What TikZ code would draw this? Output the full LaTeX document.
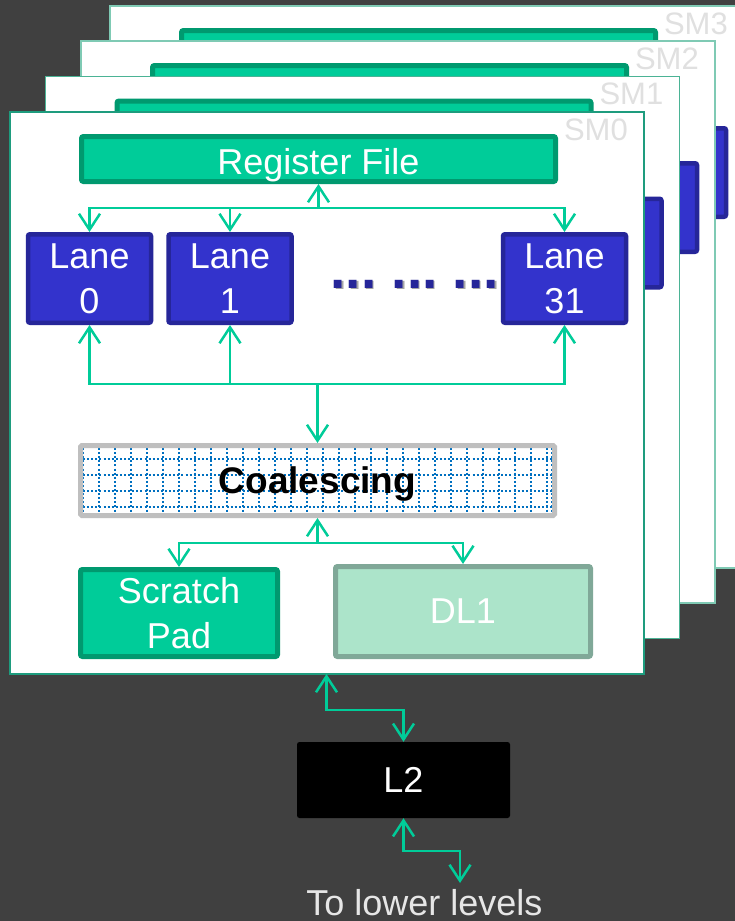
\documentclass[tikz,border=0pt]{standalone}
\usepackage{fontspec}
\setmainfont{Liberation Sans}
\usetikzlibrary{arrows.meta}

\definecolor{bgdark}{HTML}{404040}
\definecolor{rfgreen}{HTML}{00CC99}
\definecolor{rfedge}{HTML}{00996F}
\definecolor{lanefill}{HTML}{3333CC}
\definecolor{laneedge}{HTML}{262699}
\definecolor{dlfill}{HTML}{ACE4CA}
\definecolor{dledge}{HTML}{80A898}
\definecolor{coaledge}{HTML}{BFBFBF}
\definecolor{gridblue}{HTML}{0070C0}
\definecolor{smgray}{HTML}{E0E0E0}
\definecolor{lowgray}{HTML}{E6E6E6}
\definecolor{edgeA}{HTML}{1E9C7E}
\definecolor{edgeB}{HTML}{4BB395}
\definecolor{edgeC}{HTML}{7FCAB4}

\tikzset{
  bigtext/.style={font=\fontsize{36}{45}\selectfont},
  card/.style={fill=white, line width=1.5pt, minimum width=634pt, minimum height=562pt, inner sep=0pt},
  boxtext/.style={bigtext, text=white, align=center, inner sep=0pt},
  rfbox/.style={bigtext, text=white, inner sep=0pt, draw=rfedge, fill=rfgreen, line width=5pt,
                rounded corners=2pt, minimum width=474pt, minimum height=45pt,
                text height=30pt, text depth=0pt},
  lanebox/.style={boxtext, draw=laneedge, fill=lanefill, line width=4.5pt, rounded corners=2pt,
                  minimum width=123pt, minimum height=88.5pt},
  coalbox/.style={draw=coaledge, line width=5pt, rounded corners=1.5pt, inner sep=0pt,
                  minimum width=474pt, minimum height=70pt, text depth=0pt,
                  font=\fontsize{37}{45}\selectfont\bfseries, text=black},
  padbox/.style={boxtext, draw=rfedge, fill=rfgreen, line width=5pt, rounded corners=2pt,
                 minimum width=197pt, minimum height=87pt},
  dlbox/.style={boxtext, draw=dledge, fill=dlfill, line width=5pt, rounded corners=2pt,
                minimum width=255pt, minimum height=90pt},
  l2box/.style={boxtext, fill=black, rounded corners=2.5pt, minimum width=213pt, minimum height=76pt},
  smlabel/.style={font=\fontsize{31}{36}\selectfont, text=smgray, inner sep=0pt, anchor=base east},
  dotrow/.style={font=\fontsize{55}{60}\selectfont\bfseries\frenchspacing, inner sep=0pt, anchor=base west},
  gridline/.style={gridblue, line width=2pt, dash pattern=on 2pt off 2.1pt},
  link/.style={rfgreen, line width=2.5pt},
}

% One streaming multiprocessor card: #1 name suffix, #2 label, #3 border colour, #4 shift
\newcommand\smcard[4]{%
\begin{scope}[shift={#4}]
  \node[card, draw=#3] (card#1) at (327,393) {};
  \node[smlabel] (lab#1) at (628,140) {#2};
  \node[rfbox] (rf#1) at (318.5,159) {Register File};
  \node[dotrow, text=gray!70] (dotshade#1) at (332,289.5) {... ... ...};
  \node[dotrow, text=laneedge] (dots#1) at (330.5,288) {... ... ...};
  \node[lanebox] (lane0#1) at (89.5,278.5) {Lane\\0};
  \node[lanebox] (lane1#1) at (230,278.5) {Lane\\1};
  \node[lanebox] (lane31#1) at (564.5,278.5) {Lane\\31};
  % dotted grid of the coalescing unit
  \begin{scope}
    \clip (83,448) rectangle (552.5,513);
    \foreach \gx in {0,...,29} \draw[gridline] (83+16*\gx,448) -- (83+16*\gx,513);
    \draw[gridline] (551.5,448) -- (551.5,513);
    \foreach \gy in {459,475,491,507} \draw[gridline] (83,\gy) -- (552.5,\gy);
  \end{scope}
  \node[coalbox] (coal#1) at (317.5,480.5) {Coalescing};
  \node[padbox] (pad#1) at (179,613) {Scratch\\Pad};
  \node[dlbox] (dl#1) at (463,611.5) {DL1};
  % register file to lanes
  \coordinate (jr#1) at (318.5,208);
  \draw[link,->] (jr#1) -- (rf#1.south);
  \foreach \ln in {lane0,lane1,lane31} \draw[link,->] (jr#1) -| (\ln#1.north);
  % lanes to coalescing
  \coordinate (jl#1) at (317.5,384);
  \foreach \ln in {lane0,lane1,lane31} \draw[link,->] (jl#1) -| (\ln#1.south);
  \draw[link,->] (jl#1) -- (coal#1.north);
  % coalescing to scratch pad and DL1
  \coordinate (jc#1) at (317.5,543);
  \draw[link,->] (jc#1) -- (coal#1.south);
  \draw[link,->] (jc#1) -| (pad#1.north);
  \draw[link,->] (jc#1) -| (dl#1.north);
\end{scope}}

\begin{document}
\begin{tikzpicture}[x=1pt, y=-1pt, >={Straight Barb[length=16pt,width=21pt]}]
  \useasboundingbox (0,0) rectangle (735,921);
  \fill[bgdark] (0,0) rectangle (735,921);

  \smcard{3}{SM3}{edgeC}{(100,-106)}
  \smcard{2}{SM2}{edgeC}{(71,-71)}
  \smcard{1}{SM1}{edgeB}{(35.5,-35.5)}
  \smcard{0}{SM0}{edgeA}{(0,0)}

  % shared L2 and the path below it
  \node[l2box] (l2) at (403.5,780) {L2};
  \coordinate (port) at (326.5,674);
  \coordinate (bendA) at (403.5,710);
  \draw[link,<->] (port) |- (bendA) -- (l2.north);
  \coordinate (bendB) at (403.5,851);
  \coordinate (lowend) at (460,883);
  \draw[link,<->] (l2.south) -- (bendB) -| (lowend);
  \node[bigtext, text=lowgray, inner sep=0pt, anchor=base] (lower) at (424.5,915) {To lower levels};
\end{tikzpicture}
\end{document}
